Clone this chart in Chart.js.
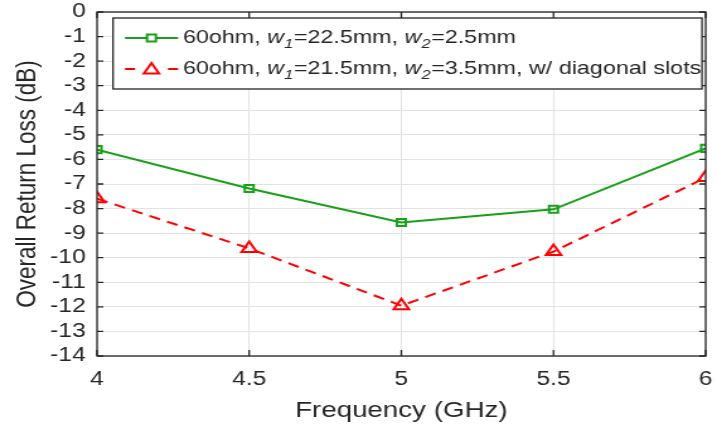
<!DOCTYPE html>
<html>
<head>
<meta charset="utf-8">
<script src="https://cdn.jsdelivr.net/npm/chart.js@4/dist/chart.umd.min.js"></script>
<style>
  html, body { margin: 0; padding: 0; background: #fff; overflow: hidden; }
  #wrap { width: 717px; height: 429px; }
  #c { display: block; }
</style>
</head>
<body>
<!-- the figure is laid out on a narrower canvas and shown widened -->
<div id="wrap"><canvas id="c" width="569" height="429" style="width:717px;height:429px"></canvas></div>
<script>
// Frequency points (GHz)
const frequencies = [4, 4.5, 5, 5.5, 6];
// Overall return loss (dB)
const lossStraight = [-5.6, -7.18, -8.57, -8.03, -5.55];
const lossDiagonal = [-7.6, -9.62, -11.95, -9.75, -6.74];
// Axis ticks
const xTicks = [4, 4.5, 5, 5.5, 6];
const yTicks = [0, -1, -2, -3, -4, -5, -6, -7, -8, -9, -10, -11, -12, -13, -14];

const GREEN = '#18a018';
const RED = '#ff0000';
const INK = '#262626';
const FONT = '"Liberation Sans", Arial, sans-serif';

// Legend entries: text runs; 'sub' runs are subscripts, 'it' runs are italic
const legendRows = [
  { color: GREEN, dashed: false, marker: 'square', runs: [
    ['60ohm, ', ''], ['w', 'it'], ['1', 'sub'], ['=22.5mm, ', ''], ['w', 'it'], ['2', 'sub'], ['=2.5mm', '']
  ]},
  { color: RED, dashed: true, marker: 'triangle', runs: [
    ['60ohm, ', ''], ['w', 'it'], ['1', 'sub'], ['=21.5mm, ', ''], ['w', 'it'], ['2', 'sub'], ['=3.5mm, w/ diagonal slots', '']
  ]}
];

function drawMarker(ctx, kind, x, y, color) {
  ctx.save();
  ctx.strokeStyle = color;
  ctx.lineWidth = 2;
  ctx.setLineDash([]);
  ctx.fillStyle = '#fff';
  ctx.beginPath();
  if (kind === 'square') {
    ctx.rect(x - 3.5, y - 3.5, 7, 7);
  } else {
    ctx.moveTo(x, y - 6);
    ctx.lineTo(x + 6, y + 4.5);
    ctx.lineTo(x - 6, y + 4.5);
    ctx.closePath();
  }
  ctx.fill();
  ctx.stroke();
  ctx.restore();
}

// Box around the plot with inward tick marks on all four sides
const frameAndTicks = {
  id: 'frameAndTicks',
  afterDraw(chart) {
    const { ctx, chartArea: a, scales } = chart;
    ctx.save();
    ctx.strokeStyle = INK;
    ctx.lineWidth = 1.3;
    ctx.setLineDash([]);
    ctx.strokeRect(a.left, a.top, a.right - a.left, a.bottom - a.top);
    ctx.beginPath();
    xTicks.forEach(v => {
      const px = scales.x.getPixelForValue(v);
      ctx.moveTo(px, a.bottom); ctx.lineTo(px, a.bottom - 6);
      ctx.moveTo(px, a.top); ctx.lineTo(px, a.top + 6);
    });
    yTicks.forEach(v => {
      const py = scales.y.getPixelForValue(v);
      ctx.moveTo(a.left, py); ctx.lineTo(a.left + 5, py);
      ctx.moveTo(a.right, py); ctx.lineTo(a.right - 5, py);
    });
    ctx.stroke();
    ctx.restore();
  }
};

// Legend box with subscripted, italic labels
const richLegend = {
  id: 'richLegend',
  afterDraw(chart) {
    const { ctx } = chart;
    const bx = 89.7, by = 18, bw = 467.4, bh = 71;
    ctx.save();
    ctx.fillStyle = '#fff';
    ctx.fillRect(bx, by, bw, bh);
    ctx.strokeStyle = INK;
    ctx.lineWidth = 1.3;
    ctx.strokeRect(bx, by, bw, bh);
    const rowsY = [38, 69];
    const x0 = 99.2, x1 = 141.3, xm = 120.2;
    legendRows.forEach((row, i) => {
      const y = rowsY[i];
      ctx.strokeStyle = row.color;
      ctx.lineWidth = 2;
      ctx.setLineDash([]);
      ctx.beginPath();
      if (row.dashed) {
        ctx.moveTo(x0, y); ctx.lineTo(x0 + 8, y);
        ctx.moveTo(x1 - 8, y); ctx.lineTo(x1, y);
      } else {
        ctx.moveTo(x0, y); ctx.lineTo(x1, y);
      }
      ctx.stroke();
      drawMarker(ctx, row.marker, xm, y, row.color);
      let x = 145.2;
      ctx.fillStyle = INK;
      ctx.textBaseline = 'middle';
      ctx.textAlign = 'left';
      row.runs.forEach(([txt, style]) => {
        let font = '18.5px ' + FONT, dy = 0;
        if (style === 'it') font = 'italic 18.5px ' + FONT;
        if (style === 'sub') { font = 'italic 13px ' + FONT; dy = 6; }
        ctx.font = font;
        ctx.fillText(txt, x, y + dy);
        x += ctx.measureText(txt).width + (style === 'sub' ? 0.5 : 0);
      });
    });
    ctx.restore();
  }
};

// no extra room for edge tick labels: the plot box is fixed by the layout padding
function noEdgePadding(s) {
  s.paddingLeft = 0; s.paddingRight = 0; s.paddingTop = 0; s.paddingBottom = 0;
}

const canvas = document.getElementById('c');
new Chart(canvas, {
  type: 'line',
  data: {
    datasets: [
      {
        label: 'straight',
        data: frequencies.map((f, i) => ({ x: f, y: lossStraight[i] })),
        borderColor: GREEN,
        borderWidth: 2,
        pointStyle: 'rect',
        pointRadius: 5,
        pointBorderWidth: 2,
        pointBorderColor: GREEN,
        pointBackgroundColor: 'rgba(255,255,255,0)',
        tension: 0
      },
      {
        label: 'diagonal',
        data: frequencies.map((f, i) => ({ x: f, y: lossDiagonal[i] })),
        borderColor: RED,
        borderWidth: 2,
        borderDash: [9, 6],
        pointStyle: 'triangle',
        pointRadius: 7,
        pointBorderWidth: 2,
        pointBorderColor: RED,
        pointBackgroundColor: 'rgba(255,255,255,0)',
        tension: 0
      }
    ]
  },
  options: {
    responsive: false,
    animation: false,
    devicePixelRatio: 1,
    layout: { padding: { top: 12, right: 5.6, left: 0, bottom: 0 } },
    plugins: { legend: { display: false }, tooltip: { enabled: false } },
    scales: {
      x: {
        type: 'linear',
        min: 4, max: 6,
        afterBuildTicks(s) { s.ticks = xTicks.map(v => ({ value: v })); },
        afterFit(s) { s.height = 73; noEdgePadding(s); },
        grid: { color: '#e3e3e3', lineWidth: 1, drawTicks: false },
        border: { display: false },
        ticks: {
          color: INK, padding: 12, autoSkip: false, maxRotation: 0,
          font: { family: FONT, size: 19.5 },
          callback: v => String(v)
        },
        title: {
          display: true, text: 'Frequency (GHz)', color: INK,
          font: { family: FONT, size: 22 }, padding: { top: 0, bottom: 5 }
        }
      },
      y: {
        type: 'linear',
        min: -14, max: 0,
        afterBuildTicks(s) { s.ticks = yTicks.map(v => ({ value: v })); },
        afterFit(s) { s.width = 77; noEdgePadding(s); },
        grid: { color: '#e3e3e3', lineWidth: 1, drawTicks: false },
        border: { display: false },
        ticks: {
          color: INK, padding: 9, autoSkip: false,
          font: { family: FONT, size: 19.5 },
          callback: v => String(v)
        },
        title: {
          display: true, text: 'Overall Return Loss (dB)', color: INK,
          font: { family: FONT, size: 22.5 }, padding: { top: 8, bottom: 0 }
        }
      }
    }
  },
  plugins: [frameAndTicks, richLegend]
});
// keep the widened display size
canvas.style.width = '717px';
canvas.style.height = '429px';
</script>
</body>
</html>
